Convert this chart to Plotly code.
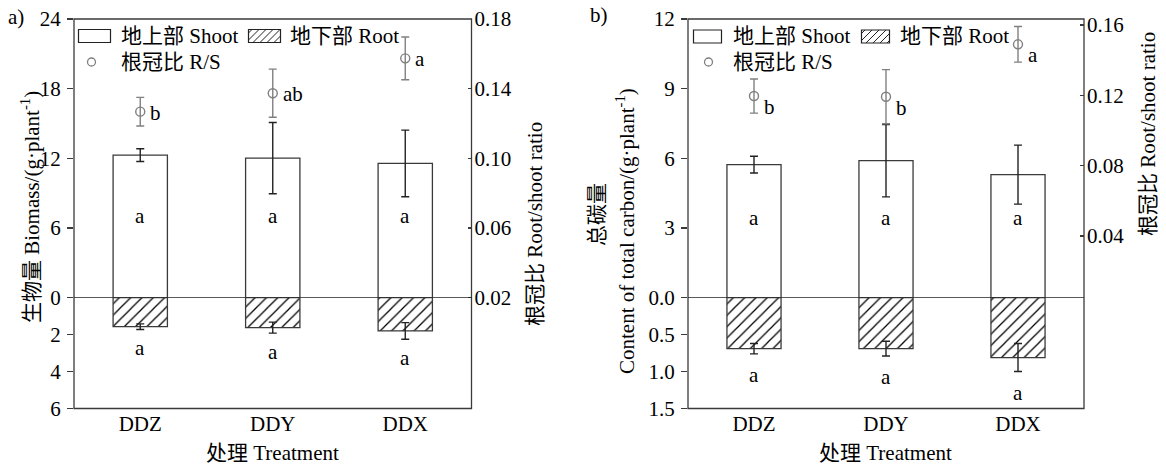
import plotly.graph_objects as go

# ---------------- data ----------------
categories = ["DDZ", "DDY", "DDX"]

# panel a: biomass (g/plant)
a_shoot = [12.28, 12.02, 11.56]
a_shoot_err = [0.55, 3.07, 2.87]
a_root = [1.57, 1.62, 1.80]
a_root_err = [0.15, 0.30, 0.45]
a_rs = [0.1268, 0.1374, 0.1574]
a_rs_err = [0.0082, 0.0138, 0.0123]
a_shoot_sig = ["a", "a", "a"]
a_root_sig = ["a", "a", "a"]
a_rs_sig = ["b", "ab", "a"]

# panel b: total carbon (g/plant)
b_shoot = [5.73, 5.90, 5.30]
b_shoot_err = [0.36, 1.56, 1.27]
b_root = [0.69, 0.69, 0.81]
b_root_err = [0.07, 0.10, 0.19]
b_rs = [0.1196, 0.1192, 0.1490]
b_rs_err = [0.0097, 0.0154, 0.0101]
b_shoot_sig = ["a", "a", "a"]
b_root_sig = ["a", "a", "a"]
b_rs_sig = ["b", "b", "a"]

a_up_ticks = [0, 6, 12, 18, 24]
a_up_text = ["0", "6", "12", "18", "24"]
a_low_ticks = [2, 4, 6]
a_low_text = ["2", "4", "6"]
a_rs_ticks = [0.02, 0.06, 0.10, 0.14, 0.18]
a_rs_text = ["0.02", "0.06", "0.10", "0.14", "0.18"]

b_up_ticks = [0, 3, 6, 9, 12]
b_up_text = ["0.0", "3", "6", "9", "12"]
b_low_ticks = [0.5, 1.0, 1.5]
b_low_text = ["0.5", "1.0", "1.5"]
b_rs_ticks = [0.04, 0.08, 0.12, 0.16]
b_rs_text = ["0.04", "0.08", "0.12", "0.16"]

legend_names = ["地上部 Shoot", "地下部 Root", "根冠比 R/S"]

# ---------------- style ----------------
W, H = 1166, 466
FONT = "Liberation Serif, 'Times New Roman', 'Noto Sans CJK SC', serif"
FS = 21
AX = "#3a3a3a"
RS_COL = "#808080"
BAR_W = 0.41


def px(x):
    return x / W


def py(y):
    return 1 - y / H


fig = go.Figure()

HATCH = dict(shape="/", fgcolor="#000", bgcolor="white", fgopacity=1, fillmode="replace",
             size=8, solidity=0.16)


def add_panel(xa, ya_up, ya_low, ya_rs, shoot, shoot_err, root, root_err, rs, rs_err):
    fig.add_trace(go.Bar(
        x=categories, y=shoot, width=BAR_W, xaxis=xa, yaxis=ya_up,
        name=legend_names[0], showlegend=False,
        marker=dict(color="white", line=dict(color=AX, width=1.3)),
        error_y=dict(type="data", array=shoot_err, color="#222", thickness=1.4, width=4),
    ))
    fig.add_trace(go.Bar(
        x=categories, y=root, width=BAR_W, xaxis=xa, yaxis=ya_low,
        name=legend_names[1], showlegend=False,
        marker=dict(color="white", line=dict(color=AX, width=1.3), pattern=HATCH),
        error_y=dict(type="data", array=root_err, color="#222", thickness=1.4, width=4),
    ))
    fig.add_trace(go.Scatter(
        x=categories, y=rs, xaxis=xa, yaxis=ya_rs, mode="markers",
        name=legend_names[2], showlegend=False,
        marker=dict(symbol="circle-open", size=9, color=RS_COL, line=dict(width=1.4, color=RS_COL)),
        error_y=dict(type="data", array=rs_err, color=RS_COL, thickness=1.4, width=4),
    ))


add_panel("x", "y", "y2", "y3", a_shoot, a_shoot_err, a_root, a_root_err, a_rs, a_rs_err)
add_panel("x2", "y4", "y5", "y6", b_shoot, b_shoot_err, b_root, b_root_err, b_rs, b_rs_err)

tickfont = dict(family=FONT, size=FS, color="black")
ycommon = dict(ticks="outside", ticklen=6, tickwidth=1.2, tickcolor=AX, showgrid=False,
               zeroline=False, showline=False, tickfont=tickfont, fixedrange=True,
               ticklabelstandoff=2, automargin=False)
yright = dict(ycommon, ticks="inside", ticklen=4, ticklabelstandoff=2)
xcommon = dict(ticks="", showgrid=False, zeroline=False, showline=False, tickfont=tickfont,
               range=[-0.5, 2.5], type="category", fixedrange=True, automargin=False)

# pixel geometry
a_x0, a_x1 = 74, 471.5
b_x0, b_x1 = 688, 1084
y_top, y_zero, y_bot = 19, 297.7, 408.5

fig.update_layout(
    template="none",
    width=W, height=H,
    margin=dict(l=0, r=0, t=0, b=0, autoexpand=False),
    paper_bgcolor="white", plot_bgcolor="rgba(0,0,0,0)",
    font=dict(family=FONT, size=FS, color="black"),
    showlegend=False,
    xaxis=dict(domain=[px(a_x0), px(a_x1)], anchor="y2", **xcommon),
    yaxis=dict(domain=[py(y_zero), py(y_top)], anchor="x", range=[0, 24],
               tickvals=a_up_ticks, ticktext=a_up_text, **ycommon),
    yaxis2=dict(domain=[py(y_bot), py(y_zero)], anchor="x", range=[6, 0],
                tickvals=a_low_ticks, ticktext=a_low_text, **ycommon),
    yaxis3=dict(domain=[py(y_bot), py(y_top)], anchor="x", side="right", range=[-0.0436, 0.18],
                tickvals=a_rs_ticks, ticktext=a_rs_text, **yright),
    xaxis2=dict(domain=[px(b_x0), px(b_x1)], anchor="y5", **xcommon),
    yaxis4=dict(domain=[py(y_zero), py(y_top)], anchor="x2", range=[0, 12],
                tickvals=b_up_ticks, ticktext=b_up_text, **ycommon),
    yaxis5=dict(domain=[py(y_bot), py(y_zero)], anchor="x2", range=[1.5, 0],
                tickvals=b_low_ticks, ticktext=b_low_text, **ycommon),
    yaxis6=dict(domain=[py(y_bot), py(y_top)], anchor="x2", side="right", range=[-0.0581, 0.1634],
                tickvals=b_rs_ticks, ticktext=b_rs_text, **yright),
)

shapes = []
for xa, yup, yrs in [("x", "y", "y3"), ("x2", "y4", "y6")]:
    shapes.append(dict(type="rect", xref=f"{xa} domain", yref=f"{yrs} domain",
                       x0=0, x1=1, y0=0, y1=1, line=dict(color=AX, width=1.3), layer="above"))
    shapes.append(dict(type="line", xref=f"{xa} domain", yref=yup,
                       x0=0, x1=1, y0=0, y1=0, line=dict(color="#222", width=1.2), layer="above"))

ann = []


def label(text, x, y, angle=0, xanchor="center", size=FS):
    ann.append(dict(text=text, x=px(x), y=py(y), xref="paper", yref="paper", showarrow=False,
                    textangle=angle, xanchor=xanchor, yanchor="middle",
                    font=dict(size=size, family=FONT, color="black")))


def hatch_path(x0, x1, y0, y1, step):
    segs = []
    c = x0 + y0 + step / 2
    while c < x1 + y1:
        xa = max(x0, c - y1)
        xb = min(x1, c - y0)
        if xb > xa:
            segs.append(f"M{px(xa):.5f},{py(c - xa):.5f}L{px(xb):.5f},{py(c - xb):.5f}")
        c += step
    return "".join(segs)


def legend_block(sx0, sx1, stext, rx0, rx1, rtext, cx, ry1, ry2, top, bot):
    shapes.append(dict(type="rect", xref="paper", yref="paper", x0=px(sx0), x1=px(sx1),
                       y0=py(bot), y1=py(top), line=dict(color="#222", width=1.2),
                       fillcolor="white"))
    label(legend_names[0], stext, ry1, xanchor="left")
    shapes.append(dict(type="rect", xref="paper", yref="paper", x0=px(rx0), x1=px(rx1),
                       y0=py(bot), y1=py(top), line=dict(color="#222", width=1.2),
                       fillcolor="white"))
    shapes.append(dict(type="path", xref="paper", yref="paper",
                       path=hatch_path(rx0, rx1, top, bot, 7), line=dict(color="#222", width=1)))
    label(legend_names[1], rtext, ry1, xanchor="left")
    shapes.append(dict(type="circle", xref="paper", yref="paper", x0=px(cx - 4), x1=px(cx + 4),
                       y0=py(ry2 + 4), y1=py(ry2 - 4), line=dict(color=RS_COL, width=1.3)))
    label(legend_names[2], stext, ry2, xanchor="left")


legend_block(78.5, 110.5, 119, 248.5, 280.5, 288, 91.5, 36, 62, 29.5, 42.5)
legend_block(693.5, 721.5, 731, 861.5, 889.5, 898, 708.5, 36.5, 62, 30, 43)


def letters(xa, yup, ylow, yrs, shoot_sig, shoot_sig_y, root, root_err, root_sig,
            rs, rs_sig, rs_shift, root_shift):
    for i, c in enumerate(categories):
        ann.append(dict(x=c, y=shoot_sig_y, xref=xa, yref=yup, text=shoot_sig[i],
                        showarrow=False, font=dict(size=FS)))
        ann.append(dict(x=c, y=root[i] + root_err[i], xref=xa, yref=ylow, text=root_sig[i],
                        showarrow=False, yanchor="middle", yshift=root_shift, font=dict(size=FS)))
        ann.append(dict(x=c, y=rs[i], xref=xa, yref=yrs, text=rs_sig[i], showarrow=False,
                        xanchor="left", xshift=8, yshift=rs_shift, font=dict(size=FS)))


letters("x", "y", "y2", "y3", a_shoot_sig, 7.0, a_root, a_root_err, a_root_sig,
        a_rs, a_rs_sig, -1, -19)
letters("x2", "y4", "y5", "y6", b_shoot_sig, 3.42, b_root, b_root_err, b_root_sig,
        b_rs, b_rs_sig, -11, -21)

label("a)", 16, 17)
label("b)", 599, 15)
label("生物量 Biomass/(g·plant<sup>-1</sup>)", 30, 207, -90)
label("根冠比 Root/shoot ratio", 535, 224, -90)
label("处理 Treatment", 272, 453)
label("总碳量", 597, 215, -90)
label("Content of total carbon/(g·plant<sup>-1</sup>)", 625, 231, -90)
label("根冠比 Root/shoot ratio", 1148, 134, -90)
label("处理 Treatment", 885, 453)

fig.update_layout(annotations=ann, shapes=shapes)

fig.write_html(
    "out.html",
    config={"displayModeBar": False, "staticPlot": True},
    post_script="document.body.style.margin='0';document.body.style.overflow='hidden';",
)
